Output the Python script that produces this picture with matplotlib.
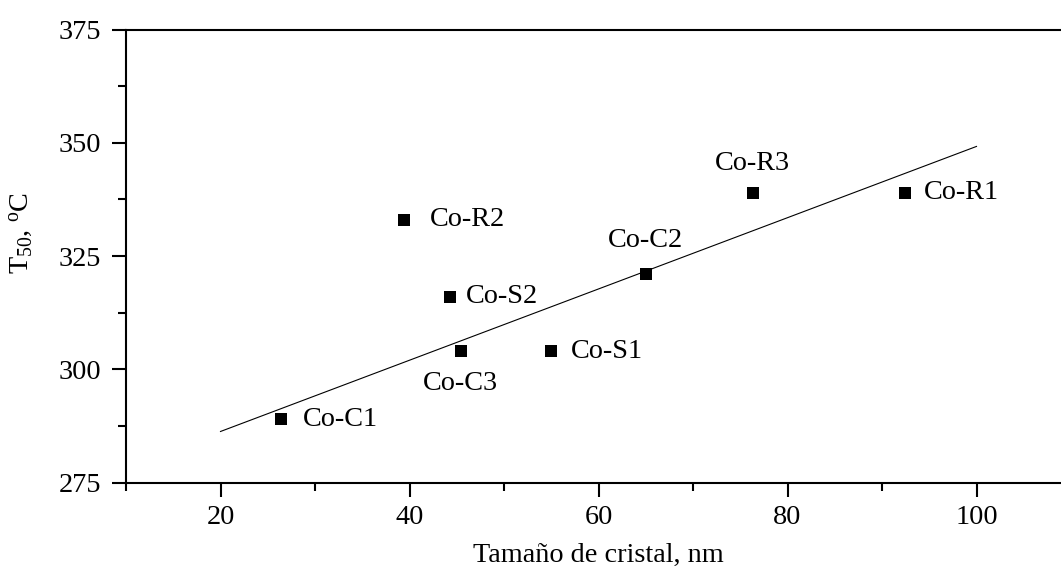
import matplotlib
matplotlib.use('Agg')
from matplotlib import pyplot as plt
from matplotlib.ticker import MultipleLocator

# muestras: tamaño de cristal (nm) y T50 (ºC)
muestras = ['Co-C1', 'Co-R2', 'Co-S2', 'Co-C3', 'Co-S1', 'Co-C2', 'Co-R3', 'Co-R1']
tamano = [26.4, 39.4, 44.3, 45.4, 55.0, 65.0, 76.3, 92.4]
t50 = [289, 333, 316, 304, 304, 321, 339, 339]

# recta de ajuste lineal
ajuste_x = [20, 100]
ajuste_y = [286.3, 349.2]

# posicion de cada etiqueta respecto al punto (puntos tipograficos)
desplaz = [(16, 0), (19, 0), (11, 0), (0, -23), (14, 0), (0, 24), (0, 21), (14, 0)]
alin = ['left', 'left', 'left', 'center', 'left', 'center', 'center', 'left']

fs = 20.3
plt.rcParams['font.family'] = ['Liberation Serif', 'DejaVu Serif']
plt.rcParams['mathtext.fontset'] = 'custom'
plt.rcParams['mathtext.rm'] = 'Liberation Serif'
plt.rcParams['mathtext.it'] = 'Liberation Serif:italic'
plt.rcParams['font.size'] = fs

fig = plt.figure(figsize=(10.61, 5.67), dpi=100)
ax = fig.add_axes([126 / 1061, 84.3 / 567, 945 / 1061, 453.2 / 567])

ax.plot(ajuste_x, ajuste_y, color='black', linewidth=0.8)
ax.plot(tamano, t50, linestyle='none', marker='s', markersize=9,
        color='black', markeredgewidth=0)

for nombre, xx, yy, d, ha in zip(muestras, tamano, t50, desplaz, alin):
    ax.annotate(nombre, (xx, yy), xytext=d, textcoords='offset points',
                ha=ha, va='center', fontsize=fs)

ax.set_xlim(10, 110)
ax.set_ylim(275, 375)
ax.xaxis.set_major_locator(MultipleLocator(20))
ax.xaxis.set_minor_locator(MultipleLocator(10))
ax.yaxis.set_major_locator(MultipleLocator(25))
ax.yaxis.set_minor_locator(MultipleLocator(12.5))

ax.tick_params(which='major', direction='out', length=10, width=1.5)
ax.tick_params(which='minor', direction='out', length=5.8, width=1.5)
ax.tick_params(axis='y', which='major', pad=8)
ax.tick_params(axis='x', which='major', pad=6)
ax.tick_params(labelsize=fs)

for s in ['left', 'bottom', 'top']:
    ax.spines[s].set_linewidth(1.5)
ax.spines['right'].set_visible(False)

ax.set_xlabel('Tamaño de cristal, nm', fontsize=fs, labelpad=9)
ax.set_ylabel(r'T$_{50}$, $^{\rm o}$C', fontsize=fs)
ax.yaxis.set_label_coords(-0.096, 0.551)

fig.savefig('out.png', dpi=100)
